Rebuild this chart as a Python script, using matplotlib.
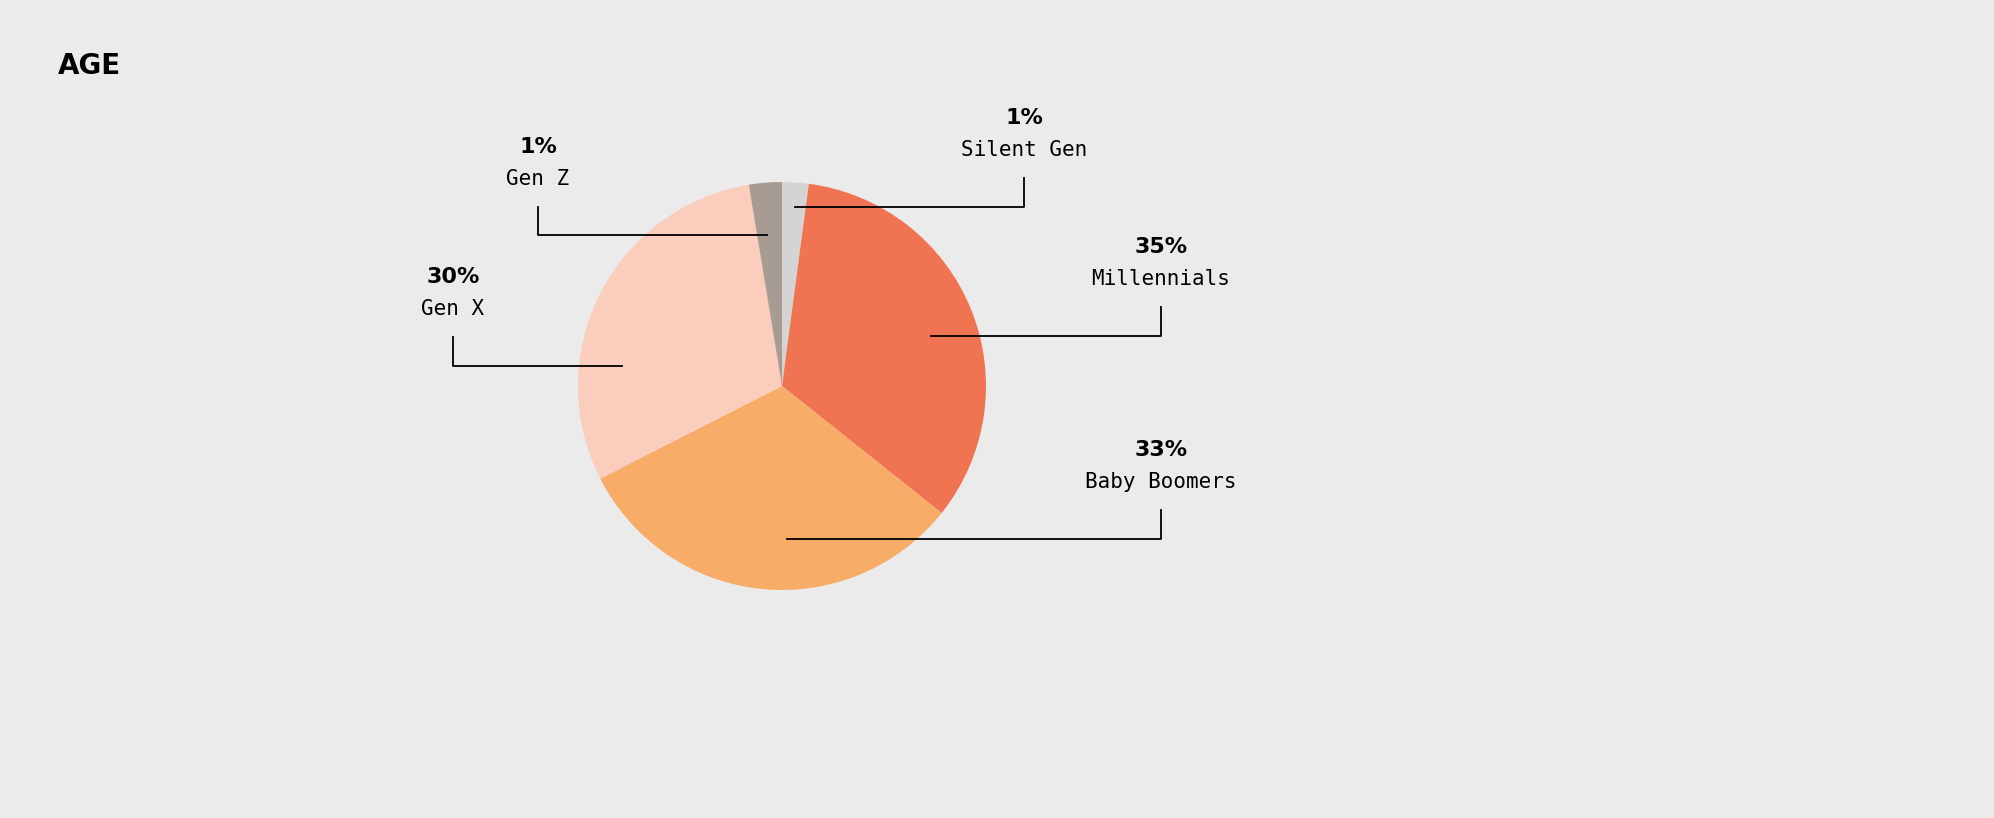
import matplotlib
matplotlib.use("Agg")
import matplotlib.pyplot as plt

W, H = 1994, 818
labels = ["Silent Gen", "Millennials", "Baby Boomers", "Gen X", "Gen Z"]
pct_text = ["1%", "35%", "33%", "30%", "1%"]
shares = [2.1, 33.6, 31.8, 29.9, 2.6]  # slice sizes as drawn
colors = ["#d4d4d4", "#f07452", "#f7ac68", "#fbcdbd", "#a89c92"]

# leader lines in pixel coords (y from top): start x, end x, y, text x, bend top y
leaders = [
    (795, 1024, 207, 178),
    (931, 1161, 336, 307),
    (787, 1161, 539, 510),
    (622, 453, 366, 337),
    (767, 538, 235, 207),
]

fig = plt.figure(figsize=(W / 100, H / 100), dpi=100, facecolor="#ebebeb")
ax = fig.add_axes([0, 0, 1, 1])
ax.set_xlim(0, W)
ax.set_ylim(0, H)
ax.set_aspect("equal")
ax.axis("off")

ax.pie(shares, colors=colors, startangle=90, counterclock=False,
       center=(782, H - 386), radius=204, frame=True,
       wedgeprops=dict(linewidth=0))
ax.set_xlim(0, W)
ax.set_ylim(0, H)
ax.axis("off")

for (x0, x1, y, ytop), lab, p in zip(leaders, labels, pct_text):
    ax.plot([x0, x1, x1], [H - y, H - y, H - ytop], color="black", lw=1.3)
    ax.text(x1, H - ytop + 60, p, ha="center", va="center", fontsize=16,
            fontweight="bold", family="DejaVu Sans")
    ax.text(x1, H - ytop + 28, lab, ha="center", va="center", fontsize=15,
            family="DejaVu Sans Mono")

ax.text(58, H - 66, "AGE", ha="left", va="center", fontsize=20,
        fontweight="bold", family="DejaVu Sans")

fig.savefig("out.png", dpi=100, facecolor=fig.get_facecolor())
